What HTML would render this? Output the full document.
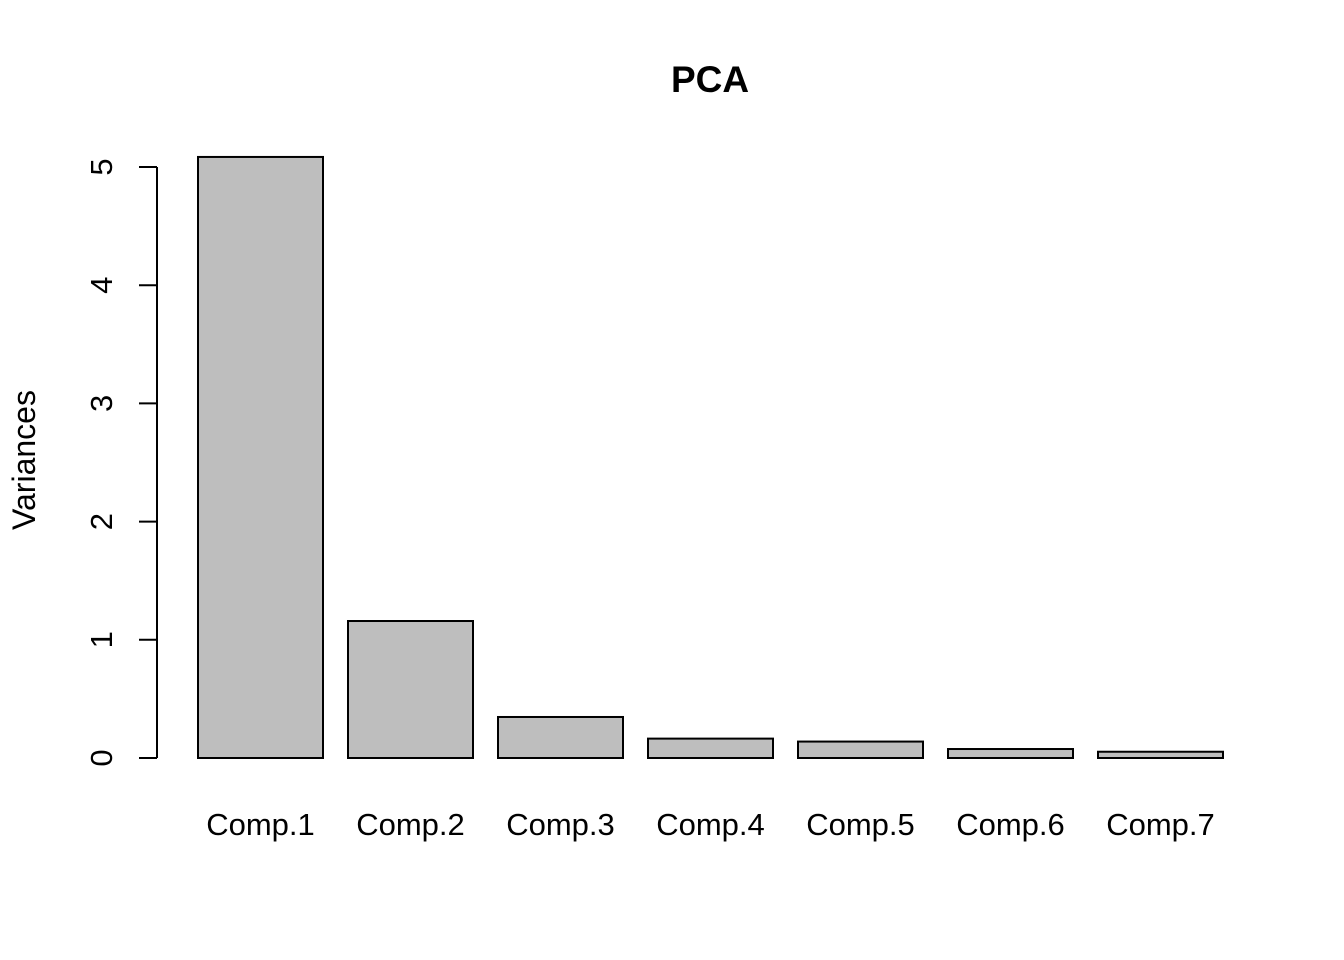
<!DOCTYPE html>
<html><head><meta charset="utf-8"><style>
body{margin:0;background:#fff}
svg{display:block;font-family:"Liberation Sans",Arial,sans-serif}
</style></head><body>
<svg id="chart" width="1344" height="960">
<text x="710" y="92" text-anchor="middle" font-size="37" font-weight="bold">PCA</text>
<text transform="translate(35,460) rotate(-90)" text-anchor="middle" font-size="32">Variances</text>
<g id="yaxis"></g>
<g id="bars"></g>
</svg>
<script>
const categories=["Comp.1","Comp.2","Comp.3","Comp.4","Comp.5","Comp.6","Comp.7"];
const variances=[5.085,1.159,0.347,0.164,0.139,0.076,0.053];
const yTicks=[0,1,2,3,4,5];
const NS="http://www.w3.org/2000/svg";
const y=v=>758-v*118.2;
const x=i=>198+i*150;
const ya=document.getElementById('yaxis'),bg=document.getElementById('bars');
function mk(t,a,p){const e=document.createElementNS(NS,t);for(const k in a)e.setAttribute(k,a[k]);p.appendChild(e);return e;}
const al=mk('line',{x1:157,x2:157,y1:y(0),y2:y(5),stroke:'#000','stroke-width':2},ya);


yTicks.forEach(t=>{
 const l=mk('line',{x1:139,x2:157,y1:y(t),y2:y(t),stroke:'#000','stroke-width':2},ya);
 
 
 const tx=mk('text',{transform:`translate(112,${y(t)}) rotate(-90)`,'text-anchor':'middle','font-size':31},ya);
 tx.textContent=t;
 
 
});
variances.forEach((v,i)=>{
 const r=mk('rect',{x:x(i),y:y(v),width:125,height:y(0)-y(v),fill:'#bebebe',stroke:'#000','stroke-width':2},bg);
 
 
 const t=mk('text',{x:x(i)+62.5,y:835,'text-anchor':'middle','font-size':31},bg);
 t.textContent=categories[i];
 
 
});
</script>
</body></html>
